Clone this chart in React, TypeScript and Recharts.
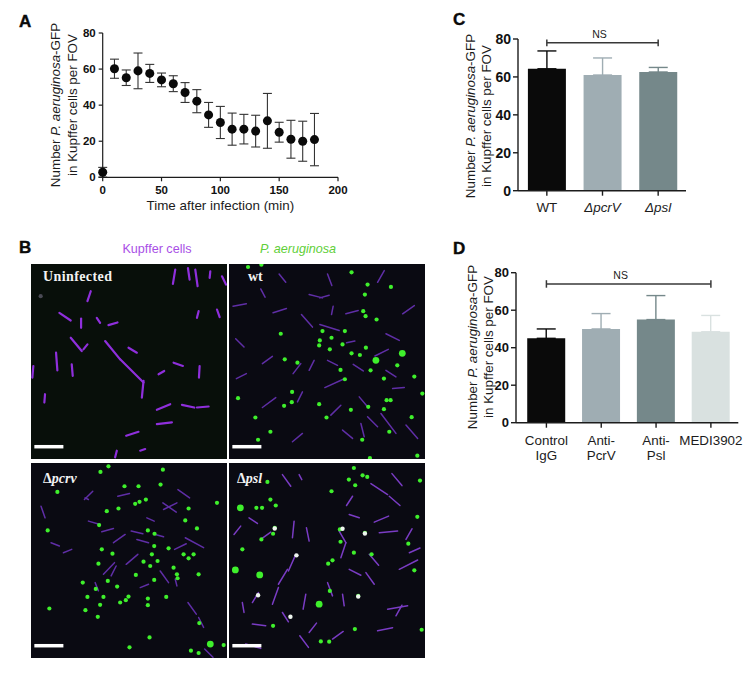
import React from "react";
import {
  Bar,
  BarChart,
  ErrorBar,
  ReferenceLine,
  Scatter,
  ScatterChart,
  XAxis,
  YAxis,
  ZAxis,
} from "recharts";

const FONT = '"Liberation Sans", Arial, sans-serif';
const INK = "#1c1c1c";

// Panel A
const minutes = [0, 10, 20, 30, 40, 50, 60, 70, 80, 90, 100, 110, 120, 130, 140, 150, 160, 170, 180];
const meanCount = [2.8, 60.2, 55.2, 59, 57.6, 54, 51.9, 47, 42.2, 34.6, 30.4, 26.7, 26.7, 25.6, 31.3, 25, 21.1, 20, 20.9];
const sdCount = [2.7, 5.3, 4.3, 9.9, 5, 3.8, 4.4, 5.5, 6.4, 6.9, 8.9, 8.9, 8.2, 8.8, 15.2, 5.5, 10.5, 11.1, 14.5];

// Panel C
const strainNames = ["WT", "ΔpcrV", "Δpsl"];
const strainMeans = [64.3, 61, 62.6];
const strainErrors = [9.4, 9, 2.4];

// Panel D
const antibodyNames = ["Control IgG", "Anti- PcrV", "Anti- Psl", "MEDI3902"];
const antibodyMeans = [45, 50, 55, 48.5];
const antibodyErrors = [5, 8.2, 12.8, 8.7];

const barColors = ["#0a0a0a", "#9fadb3", "#75888a", "#d9e1e0"];

// Panel B: spots as [x, y] and streaks as [x1, y1, x2, y2] in field-of-view units (0-587)
const uninfectedSpots = [[29, 97]];
const uninfectedStreaks = [
  [85, 147, 119, 170], [150, 164, 150, 192], [232, 184, 259, 176], [119, 222, 152, 262],
  [157, 257, 169, 242], [222, 232, 267, 287], [267, 287, 337, 357], [75, 267, 79, 320],
  [122, 302, 125, 337], [505, 307, 503, 342], [427, 297, 455, 307], [382, 332, 399, 322],
  [337, 352, 332, 402], [377, 439, 417, 422], [452, 424, 489, 432], [497, 432, 532, 429],
  [377, 482, 422, 477], [285, 517, 322, 505], [432, 17, 425, 60], [470, 12, 475, 47],
  [492, 17, 499, 67], [537, 22, 535, 42], [572, 37, 584, 62], [557, 137, 565, 160],
  [179, 82, 169, 112], [292, 252, 317, 267], [197, 162, 207, 177], [257, 562, 252, 582],
  [327, 562, 342, 557], [502, 142, 497, 162], [7, 307, 4, 342], [42, 392, 40, 417],
];

const wtSpots = [
  [57, 9], [97, 2], [367, 25], [415, 62], [485, 69], [407, 92], [402, 142], [409, 157], [442, 167],
  [155, 210], [280, 202], [347, 202], [307, 222], [272, 230], [270, 245], [302, 257], [340, 242],
  [367, 269], [392, 274], [410, 252], [167, 287], [205, 297], [504, 305], [424, 320], [464, 345],
  [555, 339], [347, 347], [27, 404], [189, 385], [188, 416], [165, 427], [270, 422], [365, 439],
  [417, 430], [464, 437], [472, 410], [484, 410], [547, 461], [292, 462], [79, 462], [579, 390],
  [480, 505], [124, 505], [87, 529], [399, 529], [564, 577], [422, 584], [334, 319],
];
const wtLargeSpots = [[440, 290], [519, 269]];
const wtStreaks = [
  [12, 127, 52, 120], [132, 147, 172, 134], [217, 152, 250, 190], [272, 102, 300, 94],
  [307, 152, 312, 127], [350, 150, 387, 140], [437, 277, 477, 257], [287, 372, 342, 347],
  [352, 237, 377, 232], [272, 182, 330, 200], [372, 302, 402, 322], [22, 345, 52, 330],
  [100, 300, 130, 278], [192, 330, 215, 300], [240, 320, 255, 290], [295, 290, 325, 305],
  [100, 432, 140, 402], [205, 415, 220, 385], [305, 455, 335, 425], [390, 400, 415, 430],
  [470, 320, 500, 340], [490, 375, 525, 372], [415, 460, 445, 490], [455, 450, 500, 510],
  [395, 480, 405, 520], [520, 150, 555, 125], [445, 55, 465, 20], [95, 75, 108, 100],
  [150, 30, 170, 55], [20, 225, 45, 250], [240, 92, 280, 102], [470, 210, 510, 230],
  [340, 500, 370, 525], [190, 535, 220, 510], [295, 30, 308, 65], [530, 485, 565, 525],
];

const pcrvSpots = [
  [232, 10], [395, 20], [208, 27], [79, 87], [280, 70], [322, 70], [388, 65], [344, 110], [312, 123],
  [325, 117], [262, 137], [227, 145], [204, 187], [50, 203], [350, 203], [370, 213], [557, 120],
  [472, 137], [462, 173], [497, 197], [369, 250], [244, 273], [212, 260], [202, 303], [337, 297],
  [379, 295], [357, 310], [427, 315], [472, 287], [457, 275], [437, 335], [439, 347], [502, 335],
  [314, 337], [369, 352], [230, 355], [258, 372], [194, 379], [155, 360], [169, 403], [217, 403],
  [267, 420], [284, 413], [292, 402], [350, 408], [350, 428], [405, 403], [207, 427], [163, 443],
  [55, 438], [200, 463], [504, 482], [355, 525], [295, 555], [479, 565], [502, 572], [577, 548],
  [362, 275], [412, 257], [487, 275],
];
const pcrvLargeSpots = [[537, 545]];
const pcrvStreaks = [
  [397, 140, 437, 120], [172, 175, 207, 185], [212, 207, 247, 197], [247, 240, 282, 215],
  [317, 230, 352, 240], [372, 215, 397, 222], [462, 225, 517, 255], [217, 335, 250, 300],
  [97, 270, 122, 260], [387, 325, 412, 360], [432, 350, 437, 370], [327, 375, 352, 365],
  [347, 165, 369, 175], [162, 105, 172, 110], [502, 465, 517, 495], [192, 360, 202, 385],
  [285, 305, 320, 275], [30, 130, 42, 165], [160, 110, 185, 85], [440, 80, 475, 105],
  [260, 100, 295, 92], [520, 560, 545, 585], [240, 340, 255, 310], [60, 240, 85, 250],
  [470, 420, 495, 455], [395, 120, 435, 148], [300, 205, 335, 213], [430, 260, 465, 243],
];

const pslSpots = [
  [374, 15], [414, 42], [400, 37], [378, 67], [115, 57], [307, 85], [359, 50], [82, 135], [99, 135],
  [124, 110], [140, 128], [137, 195], [132, 213], [97, 230], [40, 260], [332, 200], [407, 210],
  [564, 162], [334, 237], [310, 293], [297, 303], [374, 270], [555, 323], [387, 400], [302, 385],
  [132, 490], [377, 500], [577, 502], [275, 537], [300, 538], [572, 53], [537, 243], [427, 275],
];
const pslLargeSpots = [[34, 135], [19, 322], [92, 337], [270, 425]];
const pslBrightSpots = [[87, 398], [184, 463], [387, 402], [137, 197], [340, 198], [407, 212], [202, 278]];
const pslStreaks = [
  [160, 35, 185, 70], [210, 35, 218, 50], [60, 165, 85, 182], [15, 215, 35, 190], [95, 230, 125, 208],
  [200, 275, 178, 325], [148, 365, 175, 320], [130, 425, 148, 375], [40, 420, 45, 450], [70, 420, 88, 390],
  [230, 395, 222, 440], [240, 235, 232, 195], [195, 175, 190, 225], [330, 205, 350, 240], [350, 240, 335, 285],
  [360, 155, 390, 165], [435, 178, 478, 160], [450, 210, 505, 205], [530, 230, 548, 198],
  [360, 320, 395, 338], [410, 330, 435, 365], [510, 320, 565, 292], [295, 360, 310, 400], [340, 395, 345, 430],
  [475, 440, 535, 430], [500, 460, 518, 428], [240, 510, 262, 482], [212, 520, 238, 555], [310, 530, 342, 507],
  [445, 505, 490, 496], [70, 485, 110, 490], [50, 545, 95, 558], [160, 450, 178, 478], [518, 68, 488, 32],
  [425, 62, 475, 95], [480, 100, 512, 128], [370, 100, 352, 128], [540, 270, 572, 256], [420, 275, 448, 308],
];

const scaleBar = [10, 550, 97, 550];

const toPoints = (list: number[][]) => list.map(([x, y]) => ({ x, y }));

const spotShape = (r: number, fill: string) => (p: any) => (
  <circle cx={p.cx} cy={p.cy} r={r} fill={fill} />
);

function Micrograph({
  left,
  top,
  background = "#0a0a12",
  streaks,
  streakColor = "#5f2ea6",
  streakWidth = 1.5,
  spots = [],
  spotColor = "#3ff02c",
  largeSpots = [],
  brightSpots = [],
}: {
  left: number;
  top: number;
  background?: string;
  streaks: number[][];
  streakColor?: string;
  streakWidth?: number;
  spots?: number[][];
  spotColor?: string;
  largeSpots?: number[][];
  brightSpots?: number[][];
}) {
  return (
    <div style={{ position: "absolute", left, top, filter: "blur(0.5px)" }}>
      <ScatterChart
        width={196}
        height={195}
        margin={{ top: 0, right: 0, bottom: 0, left: 0 }}
        style={{ background }}
      >
        <XAxis type="number" dataKey="x" domain={[0, 587]} hide />
        <YAxis type="number" dataKey="y" domain={[0, 587]} reversed hide />
        {streaks.map(([x1, y1, x2, y2], i) => (
          <ReferenceLine
            key={i}
            segment={[{ x: x1, y: y1 }, { x: x2, y: y2 }]}
            stroke={streakColor}
            strokeWidth={streakWidth}
            strokeLinecap="round"
          />
        ))}
        <Scatter data={toPoints(spots)} shape={spotShape(2.1, spotColor)} isAnimationActive={false} />
        <Scatter data={toPoints(largeSpots)} shape={spotShape(3.4, spotColor)} isAnimationActive={false} />
        <Scatter data={toPoints(brightSpots)} shape={spotShape(2.2, "#eef5ee")} isAnimationActive={false} />
        <ReferenceLine
          segment={[{ x: scaleBar[0], y: scaleBar[1] }, { x: scaleBar[2], y: scaleBar[3] }]}
          stroke="#ffffff"
          strokeWidth={3.5}
        />
      </ScatterChart>
    </div>
  );
}

// two-line rotated axis title with the species name in italics
const countTitle = (x1: number, x2: number, cy: number, size = 13.4) => () => (
  <g fontFamily={FONT} fontSize={size} fill={INK} textAnchor="middle">
    <text x={x1} y={cy} transform={`rotate(-90 ${x1} ${cy})`} dominantBaseline="central">
      Number <tspan fontStyle="italic">P. aeruginosa</tspan>-GFP
    </text>
    <text x={x2} y={cy} transform={`rotate(-90 ${x2} ${cy})`} dominantBaseline="central">
      in Kupffer cells per FOV
    </text>
  </g>
);

const timeRows = minutes.map((t, i) => ({ t, mean: meanCount[i], sd: [Math.min(sdCount[i], meanCount[i]), sdCount[i]] }));

function TimeCourse() {
  return (
    <div style={{ position: "absolute", left: 0, top: 0 }}>
      <ScatterChart width={376} height={222} margin={{ top: 33, right: 38, bottom: 0, left: 0 }}>
        <XAxis
          type="number"
          dataKey="t"
          domain={[0, 200]}
          ticks={[0, 50, 100, 150, 200]}
          height={44.7}
          tickSize={4}
          tickMargin={5}
          axisLine={{ stroke: INK, strokeWidth: 1.2 }}
          tickLine={{ stroke: INK, strokeWidth: 1.2 }}
          tick={{ fontFamily: FONT, fontSize: 11.5, fontWeight: 700, fill: "#111" }}
          label={{
            value: "Time after infection (min)",
            position: "insideBottom",
            offset: 12,
            style: { fontFamily: FONT, fontSize: 13.4, fill: INK },
          }}
        />
        <YAxis
          type="number"
          dataKey="mean"
          domain={[0, 80]}
          ticks={[0, 20, 40, 60, 80]}
          width={102.7}
          tickSize={4}
          tickMargin={3}
          axisLine={{ stroke: INK, strokeWidth: 1.2 }}
          tickLine={{ stroke: INK, strokeWidth: 1.2 }}
          tick={{ fontFamily: FONT, fontSize: 11.5, fontWeight: 700, fill: "#111" }}
          label={{ content: countTitle(55, 72, 105) }}
        />
        <ZAxis range={[60, 60]} />
        <Scatter data={timeRows} fill="#0a0a0a" isAnimationActive={false}>
          <ErrorBar dataKey="sd" direction="y" width={4.5} stroke="#333" strokeWidth={1.1} />
        </Scatter>
      </ScatterChart>
    </div>
  );
}

const barRows = (names: string[], means: number[], errors: number[]) =>
  names.map((name, i) => ({ name, [`m${i}`]: means[i], [`e${i}`]: [0, errors[i]] }));

const strainTick = (p: any) => (
  <text
    x={p.x}
    y={p.y + 14}
    textAnchor="middle"
    fontFamily={FONT}
    fontSize={13.4}
    fill={INK}
    fontStyle={p.payload.value === "WT" ? "normal" : "italic"}
  >
    {p.payload.value}
  </text>
);

const antibodyTick = (p: any) => (
  <text x={p.x} y={p.y + 15} textAnchor="middle" fontFamily={FONT} fontSize={13.4} fill={INK}>
    {String(p.payload.value)
      .split(" ")
      .map((line, i) => (
        <tspan key={i} x={p.x} dy={i === 0 ? 0 : 15}>
          {line}
        </tspan>
      ))}
  </text>
);

function GroupBars({
  left,
  top,
  height,
  names,
  means,
  errors,
  margin,
  yWidth,
  xHeight,
  padLeft,
  gap,
  tickFont,
  tick,
  title,
  bracketY,
  capY,
  nsDx,
}: any) {
  const first = names[0];
  const last = names[names.length - 1];
  return (
    <div style={{ position: "absolute", left, top }}>
      <BarChart
        width={312}
        height={height}
        data={barRows(names, means, errors)}
        margin={margin}
        barCategoryGap={gap}
      >
        <XAxis
          dataKey="name"
          height={xHeight}
          padding={{ left: padLeft, right: 0 }}
          interval={0}
          tickSize={5}
          axisLine={{ stroke: INK, strokeWidth: 1.4 }}
          tickLine={{ stroke: INK, strokeWidth: 1.4 }}
          tick={tick}
        />
        <YAxis
          type="number"
          domain={[0, 80]}
          ticks={[0, 20, 40, 60, 80]}
          width={yWidth}
          tickSize={5}
          tickMargin={2}
          axisLine={{ stroke: INK, strokeWidth: 1.4 }}
          tickLine={{ stroke: INK, strokeWidth: 1.4 }}
          tick={{ fontFamily: FONT, fontSize: tickFont, fontWeight: 700, fill: "#111" }}
          label={{ content: title }}
        />
        {names.map((_: string, i: number) => (
          <Bar key={i} dataKey={`m${i}`} stackId="a" fill={barColors[i]} isAnimationActive={false}>
            <ErrorBar dataKey={`e${i}`} direction="y" width={9.5} stroke={barColors[i]} strokeWidth={1.4} />
          </Bar>
        ))}
        <ReferenceLine
          segment={[{ x: first, y: bracketY }, { x: last, y: bracketY }]}
          stroke="#383838"
          strokeWidth={1.5}
          label={{
            value: "NS",
            position: "top",
            dx: nsDx,
            offset: 5,
            style: { fontFamily: FONT, fontSize: 10.5, fill: INK },
          }}
        />
        <ReferenceLine segment={[{ x: first, y: bracketY - capY }, { x: first, y: bracketY + capY }]} stroke="#383838" strokeWidth={1.5} />
        <ReferenceLine segment={[{ x: last, y: bracketY - capY }, { x: last, y: bracketY + capY }]} stroke="#383838" strokeWidth={1.5} />
      </BarChart>
    </div>
  );
}

function Annotations() {
  const letter = { fontFamily: FONT, fontSize: 17, fontWeight: 700, fill: "#0a0a0a", stroke: "#0a0a0a", strokeWidth: 0.4 };
  const serif = { fontFamily: '"Liberation Serif", serif', fontSize: 14, fontWeight: 700, fill: "#f2f2f2" };
  return (
    <svg width={752} height={688} style={{ position: "absolute", left: 0, top: 0, pointerEvents: "none" }}>
      <text x={19} y={27} {...letter}>A</text>
      <text x={19} y={253} {...letter}>B</text>
      <text x={453} y={25} {...letter}>C</text>
      <text x={453} y={254} {...letter}>D</text>
      <text x={157} y={253} textAnchor="middle" fontFamily={FONT} fontSize={12.6} fill="#a94fe6">Kupffer cells</text>
      <text x={298} y={253} textAnchor="middle" fontFamily={FONT} fontSize={12.6} fontStyle="italic" fill="#5fcf38">P. aeruginosa</text>
      <text x={43} y={281} letterSpacing={0.4} {...serif}>Uninfected</text>
      <text x={248} y={281} {...serif}>wt</text>
      <text x={43} y={483} {...serif}>Δ<tspan fontStyle="italic">pcrv</tspan></text>
      <text x={237} y={483} {...serif}>Δ<tspan fontStyle="italic">psl</tspan></text>
    </svg>
  );
}

export default function App() {
  return (
    <div style={{ position: "absolute", left: 0, top: 0, width: 752, height: 688, background: "#fff", overflow: "hidden" }}>
      <TimeCourse />
      <Micrograph
        left={31}
        top={264}
        background="#080f0a"
        streaks={uninfectedStreaks}
        streakColor="#8f2fdc"
        streakWidth={2.2}
        spots={uninfectedSpots}
        spotColor="#4a4a55"
      />
      <Micrograph left={229} top={264} streaks={wtStreaks} spots={wtSpots} largeSpots={wtLargeSpots} />
      <Micrograph left={31} top={463} streaks={pcrvStreaks} spots={pcrvSpots} largeSpots={pcrvLargeSpots} />
      <Micrograph left={229} top={463} streaks={pslStreaks} streakColor="#7a3cc4" spots={pslSpots} largeSpots={pslLargeSpots} brightSpots={pslBrightSpots} />
      <GroupBars
        left={440}
        top={0}
        height={235}
        names={strainNames}
        means={strainMeans}
        errors={strainErrors}
        margin={{ top: 39, right: 66, bottom: 0, left: 0 }}
        yWidth={78}
        xHeight={44.3}
        padLeft={1}
        gap="16%"
        tickFont={14}
        tick={strainTick}
        title={countTitle(30, 46, 116)}
        bracketY={78}
        capY={1.8}
        nsDx={-3}
      />
      <GroupBars
        left={440}
        top={250}
        height={235}
        names={antibodyNames}
        means={antibodyMeans}
        errors={antibodyErrors}
        margin={{ top: 22.7, right: 13.7, bottom: 0, left: 0 }}
        yWidth={76}
        xHeight={62.3}
        padLeft={3}
        gap="15%"
        tickFont={13}
        tick={antibodyTick}
        title={countTitle(32, 48, 97)}
        bracketY={74}
        capY={2}
        nsDx={-8}
      />
      <Annotations />
    </div>
  );
}
